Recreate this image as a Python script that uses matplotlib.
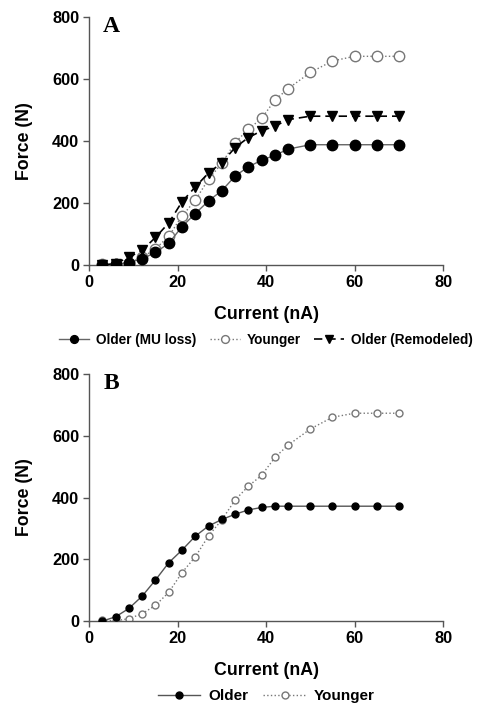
import matplotlib
matplotlib.use("Agg")
import matplotlib.pyplot as plt

plt.rcParams["font.family"] = ["Liberation Sans", "DejaVu Sans"]
plt.rcParams["font.weight"] = "bold"

# Corrente aplicada (nA)
corrente = [3, 6, 9, 12, 15, 18, 21, 24, 27, 30, 33, 36, 39, 42, 45, 50, 55, 60, 65, 70]

# Painel A
forca_mais_velho_perda = [0, 3, 8, 20, 41, 70, 124, 166, 207, 240, 287, 317, 338, 354, 374, 388, 388, 388, 388, 388]
forca_jovem = [5, 3, 7, 25, 52, 93, 158, 209, 277, 328, 395, 438, 473, 532, 569, 621, 658, 673, 673, 673]
forca_remodelado = [0, 5, 25, 48, 89, 136, 204, 252, 297, 330, 379, 411, 433, 448, 469, 480, 480, 480, 480, 480]

# Painel B
forca_mais_velho = [0, 14, 41, 81, 133, 189, 230, 275, 308, 329, 346, 360, 368, 372, 372, 372, 372, 372, 372, 372]
forca_jovem_b = [2, 1, 8, 24, 51, 93, 157, 208, 276, 328, 392, 437, 472, 530, 570, 622, 660, 673, 673, 673]

fig = plt.figure(figsize=(4.79, 7.05), dpi=100)
ax_a = fig.add_axes([0.186, 0.624, 0.739, 0.352])
ax_b = fig.add_axes([0.186, 0.119, 0.739, 0.3505])


def estilo_eixo(ax, letra):
    ax.set_xlim(0, 80)
    ax.set_ylim(0, 800)
    ax.set_xticks([0, 20, 40, 60, 80])
    ax.set_yticks([0, 200, 400, 600, 800])
    for lado in ["top", "right"]:
        ax.spines[lado].set_visible(False)
    for lado in ["left", "bottom"]:
        ax.spines[lado].set_color("#555555")
        ax.spines[lado].set_linewidth(1.0)
    ax.tick_params(direction="out", length=4, width=1, color="#555555",
                   labelsize=11.8, pad=3)
    for lbl in ax.get_xticklabels() + ax.get_yticklabels():
        lbl.set_fontweight("bold")
    ax.set_xlabel("Current (nA)", fontsize=12.8, fontweight="bold", labelpad=12)
    ax.set_ylabel("Force (N)", fontsize=12.8, fontweight="bold", labelpad=14)
    ax.text(0.04, 1.005, letra, transform=ax.transAxes, ha="left", va="top",
            fontsize=17, fontweight="bold", family="Liberation Serif")


# A: três curvas com marcadores grandes
ax_a.plot(corrente, forca_mais_velho_perda, "-", color="#666666", lw=1,
          marker="o", ms=7.5, mfc="black", mec="black", label="Older (MU loss)", zorder=3)
ax_a.plot(corrente, forca_jovem, ":", color="#777777", lw=1,
          marker="o", ms=7.5, mfc="white", mec="#777777", label="Younger", zorder=2)
ax_a.plot(corrente, forca_remodelado, "--", color="black", lw=1.2, dashes=(5, 3),
          marker="v", ms=7, mfc="black", mec="black", label="Older (Remodeled)", zorder=4)
estilo_eixo(ax_a, "A")
ax_a.legend(loc="upper center", bbox_to_anchor=(0.5, -0.225), ncol=3, frameon=False,
            handlelength=2.2, columnspacing=1.0, handletextpad=0.5,
            markerscale=0.75, prop={"weight": "bold", "size": 9.8})

# B: duas curvas com marcadores menores
ax_b.plot(corrente, forca_mais_velho, "-", color="#555555", lw=1,
          marker="o", ms=5, mfc="black", mec="black", label="Older", zorder=3)
ax_b.plot(corrente, forca_jovem_b, ":", color="#777777", lw=1,
          marker="o", ms=5, mfc="white", mec="#777777", label="Younger", zorder=2)
estilo_eixo(ax_b, "B")
ax_b.legend(loc="upper center", bbox_to_anchor=(0.5, -0.22), ncol=2, frameon=False,
            handlelength=2.8, columnspacing=1.0, handletextpad=0.5,
            prop={"weight": "bold", "size": 11})

fig.savefig("out.png", dpi=100)
